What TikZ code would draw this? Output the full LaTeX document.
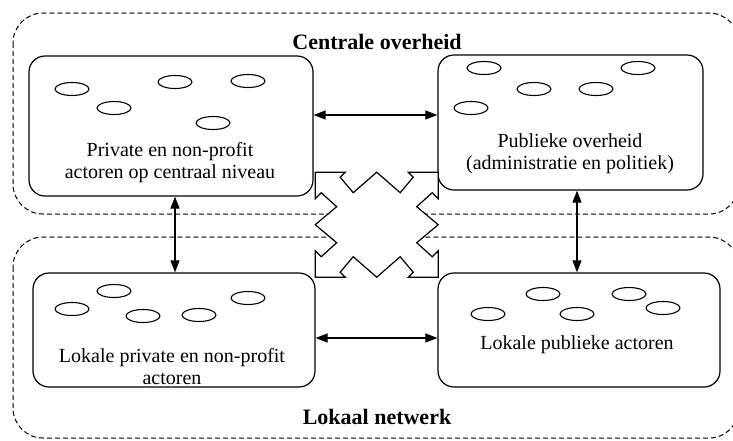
\documentclass[tikz,border=0pt]{standalone}
\usepackage{fontspec}
\setmainfont{Liberation Serif}
\usetikzlibrary{arrows.meta,positioning}

\begin{document}
\begin{tikzpicture}[
    x=1pt, y=-1pt,
    font=\fontsize{20}{22}\selectfont,
    region/.style={draw, dash pattern=on 5pt off 3pt, line width=1pt, rounded corners=30pt},
    actbox/.style={draw, rounded corners=16pt, line width=1.2pt, fill=white, inner sep=0pt},
    actor/.style={draw, line width=1.1pt},
    lbl/.style={align=center, inner sep=0pt},
    ttl/.style={font=\fontsize{22}{26}\selectfont\bfseries, inner sep=0pt},
    arr/.style={{Triangle[length=12pt,width=9pt]}-{Triangle[length=12pt,width=9pt]}, line width=1.1pt},
    star/.style={draw, fill=white, line width=1.2pt, line join=miter},
  ]
  \useasboundingbox (0,0) rectangle (733,440);

  % the two levels
  \draw[region] (13,13) rectangle (739,214);
  \draw[region] (13,237) rectangle (739,438);
  \node[ttl] (ctitle) at (377,42) {Centrale overheid};
  \node[ttl] (ltitle) at (377,417) {Lokaal netwerk};

  % four groups of actors
  \node[actbox, minimum width=284pt, minimum height=140pt] (pc) at (171,126) {};
  \node[actbox, minimum width=265pt, minimum height=135pt] (po) at (570.5,122.5) {};
  \node[actbox, minimum width=282pt, minimum height=114pt] (lp) at (174,330) {};
  \node[actbox, minimum width=282pt, minimum height=114pt] (lo) at (579,330) {};

  \node[lbl] (pcl) at (170,163) {Private en non-profit\\actoren op centraal niveau};
  \node[lbl] (pol) at (570,154) {Publieke overheid\\(administratie en politiek)};
  \node[lbl] (lpl) at (172,367) {Lokale private en non-profit\\actoren};
  \node[lbl] (lol) at (577,345) {Lokale publieke actoren};

  \foreach \x/\y in {72/89, 114/108, 175/82, 248/81, 213/123,
                     484/68, 534/89, 596/89, 638/68, 471/108,
                     72/309, 114/291, 143/316, 199/315, 248/298,
                     488/314, 543/294, 577/314, 629/294, 663/308}
    \draw[actor] (\x,\y) ellipse [x radius=17pt, y radius=6.5pt];

  % links between the groups
  \draw[arr] (pc.east |- 0,115) -- (po.west |- 0,115);
  \draw[arr] (lp.east |- 0,338) -- (lo.west |- 0,338);
  \draw[arr] (pc.south -| 175,0) -- (lp.north -| 175,0);
  \draw[arr] (po.south -| 577,0) -- (lo.north -| 577,0);

  % crossing four-way arrow
  \begin{scope}[shift={(376.7,224.7)}]
    \draw[star] (0,-52.5) -- (23.5,-32) -- (36.5,-47.5) -- (31.5,-52.5) -- (61.5,-52.5)
      -- (61.5,-26) -- (55.5,-32) -- (40,-18) -- (61.5,0)
      -- (40,18) -- (55.5,32) -- (61.5,26) -- (61.5,52.5)
      -- (31.5,52.5) -- (36.5,47.5) -- (23.5,32) -- (0,52.5)
      -- (-23.5,32) -- (-36.5,47.5) -- (-31.5,52.5) -- (-61.5,52.5)
      -- (-61.5,26) -- (-55.5,32) -- (-40,18) -- (-61.5,0)
      -- (-40,-18) -- (-55.5,-32) -- (-61.5,-26) -- (-61.5,-52.5)
      -- (-31.5,-52.5) -- (-36.5,-47.5) -- (-23.5,-32) -- cycle;
  \end{scope}
\end{tikzpicture}
\end{document}
